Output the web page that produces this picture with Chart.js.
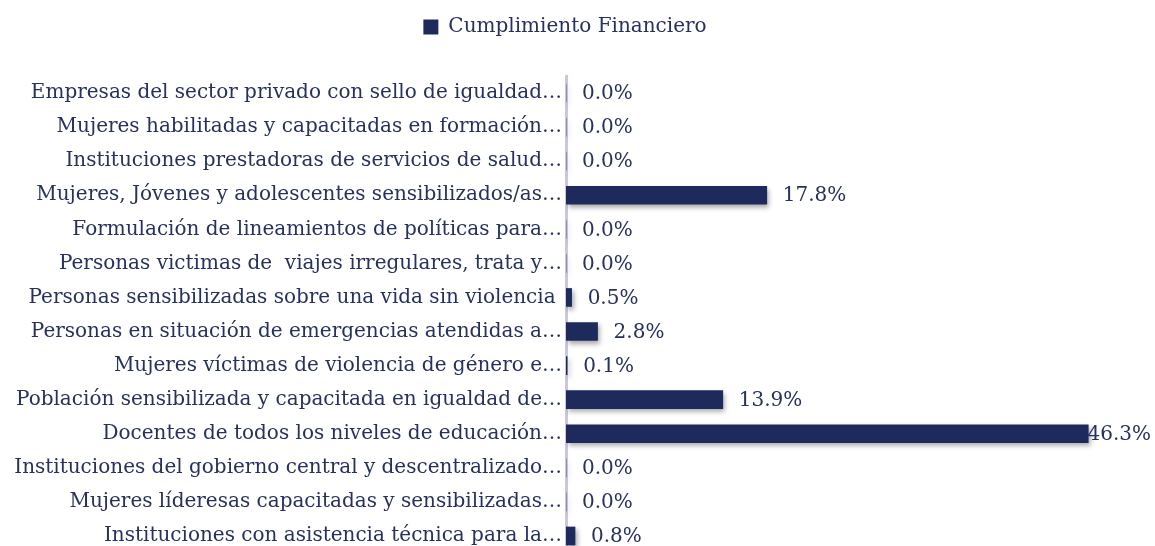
<!DOCTYPE html>
<html>
<head>
<meta charset="utf-8">
<script src="https://cdn.jsdelivr.net/npm/chart.js@4"></script>
<style>
  html, body { margin: 0; padding: 0; background: #fff; overflow: hidden; }
  #wrap { width: 1155px; height: 561px; position: relative; }
</style>
</head>
<body>
<div id="wrap"><canvas id="finChart"></canvas></div>
<script>
// categories top to bottom, as in the picture
const categories = [
    'Empresas del sector privado con sello de igualdad…',
    'Mujeres habilitadas y capacitadas en formación…',
    'Instituciones prestadoras de servicios de salud…',
    'Mujeres, Jóvenes y adolescentes sensibilizados/as…',
    'Formulación de lineamientos de políticas para…',
    'Personas victimas de  viajes irregulares, trata y…',
    'Personas sensibilizadas sobre una vida sin violencia ',
    'Personas en situación de emergencias atendidas a…',
    'Mujeres víctimas de violencia de género e…',
    'Población sensibilizada y capacitada en igualdad de…',
    'Docentes de todos los niveles de educación…',
    'Instituciones del gobierno central y descentralizado…',
    'Mujeres líderesas capacitadas y sensibilizadas…',
    'Instituciones con asistencia técnica para la…'
];
const cumplimiento = [0.0, 0.0, 0.0, 17.8, 0.0, 0.0, 0.5, 2.8, 0.1, 13.9, 46.3, 0.0, 0.0, 0.8];
const seriesName = 'Cumplimiento Financiero';

const navy = '#1f2a5c';
const textColor = '#27305e';
const serif = "'DejaVu Serif', serif";

// value labels at the end of each bar
const barLabels = {
    id: 'barLabels',
    afterDatasetsDraw(chart) {
        const ctx = chart.ctx;
        const meta = chart.getDatasetMeta(0);
        ctx.save();
        ctx.font = '20px ' + serif;
        ctx.fillStyle = textColor;
        ctx.textBaseline = 'middle';
        meta.data.forEach((bar, i) => {
            const txt = cumplimiento[i].toFixed(1) + '%';
            const w = ctx.measureText(txt).width;
            let x = bar.x + 16;
            if (x + w > chart.width - 4) x = chart.width - 4 - w;
            ctx.fillText(txt, x, bar.y + 1);
        });
        ctx.restore();
    }
};

// soft shadow under bars
const barShadow = {
    id: 'barShadow',
    beforeDatasetDraw(chart) {
        const ctx = chart.ctx;
        ctx.save();
        ctx.shadowColor = 'rgba(0,0,0,0.35)';
        ctx.shadowBlur = 5;
        ctx.shadowOffsetX = 2;
        ctx.shadowOffsetY = 3;
    },
    afterDatasetDraw(chart) {
        chart.ctx.restore();
    }
};

// extra room under the legend
const legendGap = {
    id: 'legendGap',
    beforeInit(chart) {
        const origFit = chart.legend.fit;
        chart.legend.fit = function () {
            origFit.bind(chart.legend)();
            this.height += 29;
        };
    }
};

const ctx = document.getElementById('finChart').getContext('2d');
const finChart = new Chart(ctx, {
    type: 'bar',
    data: {
        labels: categories,
        datasets: [{
            label: seriesName,
            data: cumplimiento,
            backgroundColor: navy,
            borderWidth: 0,
            barThickness: 18
        }]
    },
    options: {
        indexAxis: 'y',
        responsive: true,
        maintainAspectRatio: false,
        animation: false,
        layout: { padding: { top: 7, right: 25, bottom: 4, left: 0 } },
        scales: {
            x: {
                min: 0,
                max: 50,
                display: false
            },
            y: {
                grid: { display: false },
                border: { display: true, color: '#cbc6e8', width: 3 },
                ticks: {
                    color: textColor,
                    font: { family: serif, size: 20 },
                    padding: -4,
                    autoSkip: false
                },
                afterFit(scale) { scale.width = 566; }
            }
        },
        plugins: {
            legend: {
                position: 'top',
                labels: {
                    color: textColor,
                    font: { family: serif, size: 20 },
                    boxWidth: 15,
                    boxHeight: 15,
                    padding: 10
                }
            },
            tooltip: { enabled: false }
        }
    },
    plugins: [legendGap, barShadow, barLabels]
});
</script>
</body>
</html>
